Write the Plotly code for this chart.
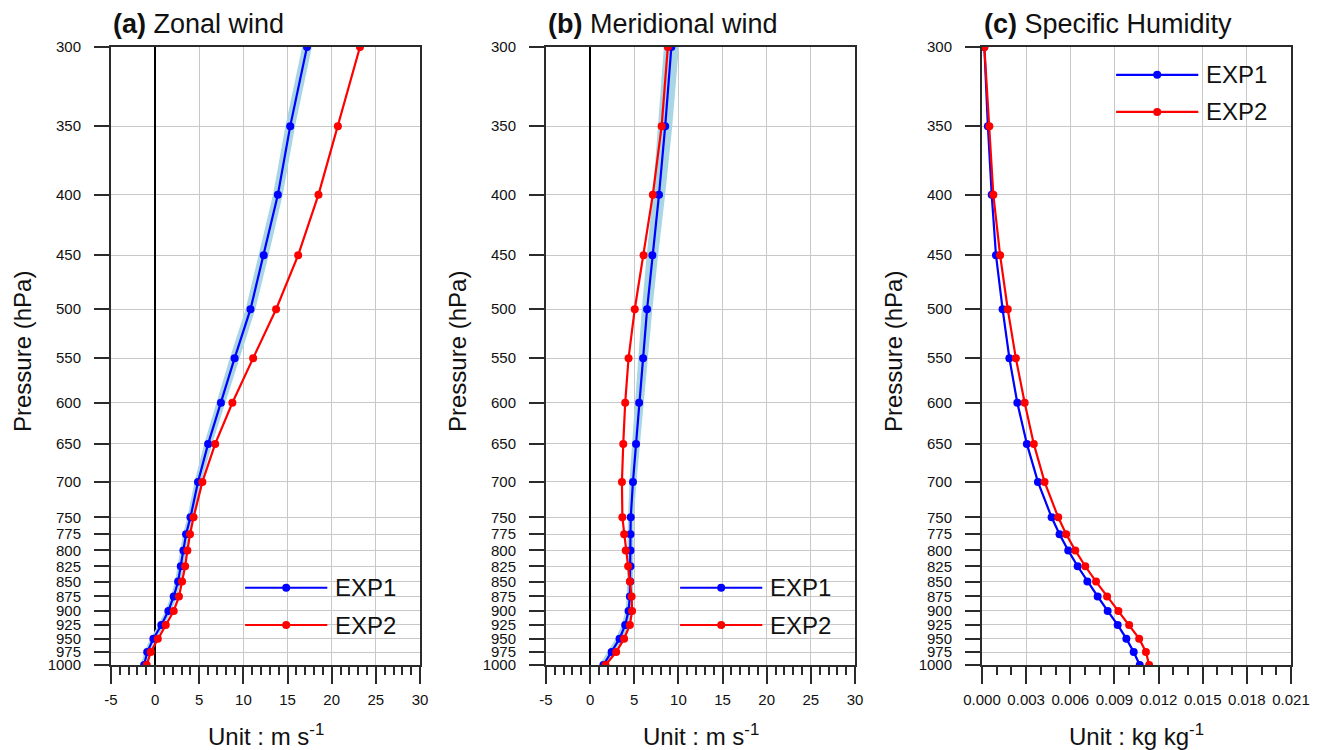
import plotly.graph_objects as go

# Pressure levels (hPa)
levels = [300, 350, 400, 450, 500, 550, 600, 650, 700, 750,
          775, 800, 825, 850, 875, 900, 925, 950, 975, 1000]
level_labels = [str(p) for p in levels]

# (a) Zonal wind (m/s)
u_exp1 = [17.2, 15.3, 13.9, 12.3, 10.8, 9.0, 7.45, 6.0, 4.85, 4.0,
          3.5, 3.2, 2.9, 2.6, 2.1, 1.5, 0.7, -0.2, -0.9, -1.25]
u_exp2 = [23.2, 20.7, 18.5, 16.2, 13.7, 11.1, 8.75, 6.8, 5.35, 4.35,
          3.95, 3.65, 3.4, 3.05, 2.7, 2.1, 1.2, 0.3, -0.5, -0.95]
u_spread = [0.55, 0.55, 0.55, 0.55, 0.55, 0.55, 0.5, 0.45, 0.4, 0.35,
            0.35, 0.35, 0.35, 0.35, 0.35, 0.35, 0.35, 0.35, 0.35, 0.35]

# (b) Meridional wind (m/s)
v_exp1 = [9.2, 8.5, 7.8, 7.05, 6.45, 6.0, 5.55, 5.2, 4.85, 4.6,
          4.57, 4.57, 4.57, 4.55, 4.5, 4.35, 3.97, 3.33, 2.43, 1.5]
v_exp2 = [8.8, 8.1, 7.1, 6.05, 5.05, 4.35, 3.97, 3.75, 3.6, 3.65,
          3.85, 4.03, 4.3, 4.5, 4.7, 4.75, 4.5, 3.85, 2.95, 1.75]
v_spread = [0.85, 0.8, 0.7, 0.65, 0.6, 0.55, 0.5, 0.45, 0.4, 0.35,
            0.35, 0.35, 0.35, 0.35, 0.35, 0.35, 0.4, 0.45, 0.45, 0.45]

# (c) Specific humidity (kg/kg)
q_exp1 = [0.00016, 0.0004, 0.00066, 0.00095, 0.0014, 0.00186, 0.0024, 0.00305, 0.0038, 0.00473,
          0.00527, 0.00586, 0.0065, 0.00716, 0.00786, 0.00854, 0.00922, 0.00981, 0.01031, 0.01072]
q_exp2 = [0.00016, 0.0005, 0.00077, 0.00123, 0.00175, 0.0023, 0.0029, 0.00352, 0.00425, 0.00518,
          0.00572, 0.00634, 0.00702, 0.00775, 0.0085, 0.00927, 0.01, 0.01068, 0.01114, 0.01136]
q_spread = [0.00003] * 5 + [0.00005] * 5 + [0.00008] * 10

wind_ticks = [-5, 0, 5, 10, 15, 20, 25, 30]
wind_ticktext = ["-5", "0", "5", "10", "15", "20", "25", "30"]
q_ticks = [0.0, 0.003, 0.006, 0.009, 0.012, 0.015, 0.018, 0.021]
q_ticktext = ["0.000", "0.003", "0.006", "0.009", "0.012", "0.015", "0.018", "0.021"]

titles = [("(a)", "Zonal wind"), ("(b)", "Meridional wind"), ("(c)", "Specific Humidity")]
units = ["Unit : m s<sup>-1</sup>", "Unit : m s<sup>-1</sup>", "Unit : kg kg<sup>-1</sup>"]

W, H = 1322, 750
FONT = "Liberation Sans, Arial, Helvetica, sans-serif"
BLUE, RED, BAND = "#0000ff", "#ff0000", "#a9d6e5"
FRAME = "#2b2b2b"
GRID = "#c8c8c8"

# panel placement in pixels
panel_left = [111, 546, 982]
panel_w = 309
top_px, bottom_px = 47, 665

fig = go.Figure()

panels = [
    (u_exp1, u_exp2, u_spread, [-5, 30], wind_ticks, wind_ticktext, 1),
    (v_exp1, v_exp2, v_spread, [-5, 30], wind_ticks, wind_ticktext, 1),
    (q_exp1, q_exp2, q_spread, [0, 0.021], q_ticks, q_ticktext, 0.001),
]

for i, (e1, e2, spr, xr, tv, tt, minor_dt) in enumerate(panels):
    n = "" if i == 0 else str(i + 1)
    xa, ya = "x" + n, "y" + n
    lo = [a - s for a, s in zip(e1, spr)]
    hi = [a + s for a, s in zip(e1, spr)]
    # spread band around EXP1
    fig.add_trace(go.Scatter(
        x=lo + hi[::-1], y=levels + levels[::-1], fill="toself",
        fillcolor=BAND, line=dict(width=0), mode="lines",
        hoverinfo="skip", showlegend=False, xaxis=xa, yaxis=ya))
    fig.add_trace(go.Scatter(
        x=e1, y=levels, mode="lines+markers", name="EXP1",
        line=dict(color=BLUE, width=2.2), marker=dict(size=8, color=BLUE),
        showlegend=False, xaxis=xa, yaxis=ya))
    fig.add_trace(go.Scatter(
        x=e2, y=levels, mode="lines+markers", name="EXP2",
        line=dict(color=RED, width=2.2), marker=dict(size=8, color=RED),
        showlegend=False, xaxis=xa, yaxis=ya))

    x0 = panel_left[i] / W
    x1 = (panel_left[i] + panel_w) / W
    fig.layout["xaxis" + n] = dict(
        domain=[x0, x1], anchor=ya, range=xr, automargin=False,
        tickmode="array", tickvals=tv, ticktext=tt,
        ticks="outside", ticklen=17, tickwidth=2, tickcolor=FRAME,
        minor=dict(dtick=minor_dt, ticks="outside", ticklen=8, tickwidth=1.5,
                   tickcolor=FRAME, showgrid=False),
        showgrid=True, gridcolor=GRID, gridwidth=1,
        zeroline=(i < 2), zerolinecolor="#000000", zerolinewidth=1.6,
        showline=True, mirror=True, linecolor=FRAME, linewidth=2,
        tickfont=dict(family=FONT, size=15, color="#111"),
        ticklabelstandoff=3, fixedrange=True)
    fig.layout["yaxis" + n] = dict(
        domain=[1 - bottom_px / H, 1 - top_px / H], anchor=xa, automargin=False,
        type="log", range=[3, 2.47712125472],
        tickmode="array", tickvals=levels, ticktext=level_labels,
        ticks="outside", ticklen=15, tickwidth=2, tickcolor=FRAME,
        showgrid=True, gridcolor=GRID, gridwidth=1, zeroline=False,
        showline=True, mirror=True, linecolor=FRAME, linewidth=2,
        tickfont=dict(family=FONT, size=15, color="#111"),
        ticklabelstandoff=10, fixedrange=True)

    cx = (panel_left[i] + panel_w / 2) / W
    # panel title
    fig.add_annotation(
        text="<b>%s</b> %s" % titles[i], xref="paper", yref="paper",
        x=x0, y=1 - 24 / H, xanchor="left", yanchor="middle", showarrow=False,
        font=dict(family=FONT, size=27, color="#111"))
    # axis titles
    fig.add_annotation(
        text="Pressure (hPa)", xref="paper", yref="paper",
        x=(panel_left[i] - 89) / W, y=1 - 352 / H, textangle=-90,
        xanchor="center", yanchor="middle", showarrow=False,
        font=dict(family=FONT, size=24, color="#111"))
    fig.add_annotation(
        text=units[i], xref="paper", yref="paper",
        x=cx, y=1 - 735 / H, xanchor="center", yanchor="middle", showarrow=False,
        font=dict(family=FONT, size=24, color="#111"))

    # legend drawn inside each panel
    if i < 2:
        leg_y = [0.125, 0.0647]
    else:
        leg_y = [0.955, 0.895]
    for name, col, ly in (("EXP1", BLUE, leg_y[0]), ("EXP2", RED, leg_y[1])):
        fig.add_shape(type="line", xref=xa + " domain", yref=ya + " domain",
                      x0=0.434, x1=0.70, y0=ly, y1=ly,
                      line=dict(color=col, width=2.2))
        fig.add_shape(type="circle", xref=xa + " domain", yref=ya + " domain",
                      xsizemode="pixel", ysizemode="pixel",
                      xanchor=0.567, yanchor=ly, x0=-4, x1=4, y0=-4, y1=4,
                      fillcolor=col, line=dict(color=col, width=0))
        fig.add_annotation(text=name, xref=xa + " domain", yref=ya + " domain",
                           x=0.718, y=ly, xanchor="left", yanchor="middle",
                           showarrow=False,
                           font=dict(family=FONT, size=24, color="#111"))

fig.update_layout(
    width=W, height=H, autosize=False,
    margin=dict(l=0, r=0, t=0, b=0),
    paper_bgcolor="white", plot_bgcolor="white",
    showlegend=False,
    font=dict(family=FONT, color="#111"),
)

fig.write_html("out.html", config={"displayModeBar": False})
